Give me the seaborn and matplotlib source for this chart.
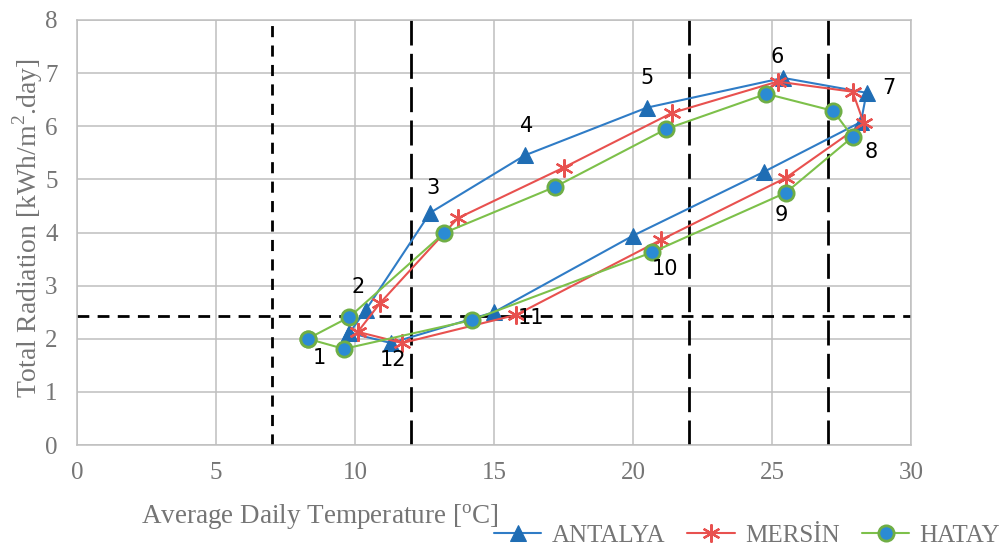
import numpy as np
import pandas as pd
import matplotlib
matplotlib.use("Agg")
import matplotlib.pyplot as plt
import seaborn as sns

# monthly averages, month 1..12 (loop is closed back to month 1)
months = list(range(1, 13))
antalya_temp = [9.8, 10.4, 12.7, 16.1, 20.5, 25.4, 28.4, 28.2, 24.7, 20.0, 15.0, 11.3]
antalya_rad = [2.11, 2.55, 4.37, 5.45, 6.35, 6.91, 6.63, 6.08, 5.14, 3.94, 2.50, 1.92]
mersin_temp = [10.1, 10.9, 13.7, 17.5, 21.4, 25.2, 27.9, 28.3, 25.5, 21.0, 15.8, 11.7]
mersin_rad = [2.13, 2.67, 4.27, 5.22, 6.25, 6.84, 6.65, 6.06, 5.03, 3.86, 2.45, 1.92]
hatay_temp = [8.3, 9.8, 13.2, 17.2, 21.2, 24.8, 27.2, 27.9, 25.5, 20.7, 14.2, 9.6]
hatay_rad = [2.00, 2.41, 3.99, 4.86, 5.95, 6.61, 6.29, 5.80, 4.75, 3.63, 2.35, 1.81]

# reference lines
vlines = [7, 12, 22, 27]
hline_y = 2.42

# month label offsets (pixels) from the Antalya points
label_offsets = [(-30, -25), (-8, 23), (3, 25), (2, 29), (0, 30), (-6, 21),
                 (22, 5), (10, -30), (18, -43), (32, -33), (37, -6), (2, -17)]

grey = "#757575"
sns.set_style("white")
plt.rcParams["font.family"] = ["Liberation Serif", "DejaVu Serif"]
plt.rcParams["mathtext.fontset"] = "custom"
plt.rcParams["mathtext.rm"] = "Liberation Serif"
plt.rcParams["lines.scale_dashes"] = False

fig = plt.figure(figsize=(10, 5.49), dpi=100)
ax = fig.add_axes([0.077, 0.1894, 0.834, 0.7742])


def closed(df):
    return pd.concat([df, df.iloc[[0]]], ignore_index=True)


series = [
    ("ANTALYA", antalya_temp, antalya_rad,
     dict(color="#2f7cc6", marker="^", markersize=12, markerfacecolor="#1f6db4",
          markeredgecolor="#1f6db4")),
    ("MERSİN", mersin_temp, mersin_rad,
     dict(color="#e8514f", marker=(6, 2, 0), markersize=13, markeredgewidth=1.6,
          markeredgecolor="#e8514f")),
    ("HATAY", hatay_temp, hatay_rad,
     dict(color="#7dc04a", marker="o", markersize=11, markeredgewidth=2,
          markerfacecolor="#2b8bd4", markeredgecolor="#6fae45")),
]

for name, t, r, style in series:
    df = closed(pd.DataFrame({"month": months, "temp": t, "rad": r}))
    sns.lineplot(data=df, x="temp", y="rad", sort=False, estimator=None,
                 linewidth=1.5, label=name, ax=ax, **style)

for x in vlines:
    dash = (8, 6) if x == 7 else (18, 6)
    ax.axvline(x, color="black", linewidth=2, linestyle=(0, dash), zorder=1)
ax.axhline(hline_y, color="black", linewidth=2, linestyle=(0, (8.5, 6)), zorder=1)

for m, tx, ty, off in zip(months, antalya_temp, antalya_rad, label_offsets):
    ax.annotate(str(m), (tx, ty), xytext=off, textcoords="offset pixels",
                ha="center", va="center", fontsize=15, family="DejaVu Sans",
                color="black")

ax.set_xlim(0, 30)
ax.set_ylim(0, 8)
ax.set_xticks(range(0, 31, 5))
ax.set_yticks(range(0, 9))
ax.grid(True, color="#bfbfbf", linewidth=1.1)
ax.set_axisbelow(True)
for s in ax.spines.values():
    s.set_color("#bfbfbf")
    s.set_linewidth(1.1)
ax.tick_params(axis="both", length=0, labelsize=18, labelcolor=grey)
ax.tick_params(axis="y", pad=14)
ax.tick_params(axis="x", pad=12)

ax.set_xlabel("Average Daily Temperature [$^{\\rm o}$C]", fontsize=19.5, color=grey)
ax.xaxis.set_label_coords(0.291, -0.135)
ax.set_ylabel("Total Radiation [kWh/m$^{\\rm 2}$.day]", fontsize=20, color=grey,
              va="center")
ax.yaxis.set_label_coords(-0.059, 0.51)

handles, labels = ax.get_legend_handles_labels()
ax.get_legend().remove()
fig.legend(handles, labels, loc="center right", bbox_to_anchor=(1.0, 0.024),
           ncol=3, frameon=False, fontsize=18, labelcolor=grey,
           handlelength=1.9, handletextpad=0.4, columnspacing=0.9,
           borderaxespad=0, borderpad=0)

fig.savefig("out.png", dpi=100)
